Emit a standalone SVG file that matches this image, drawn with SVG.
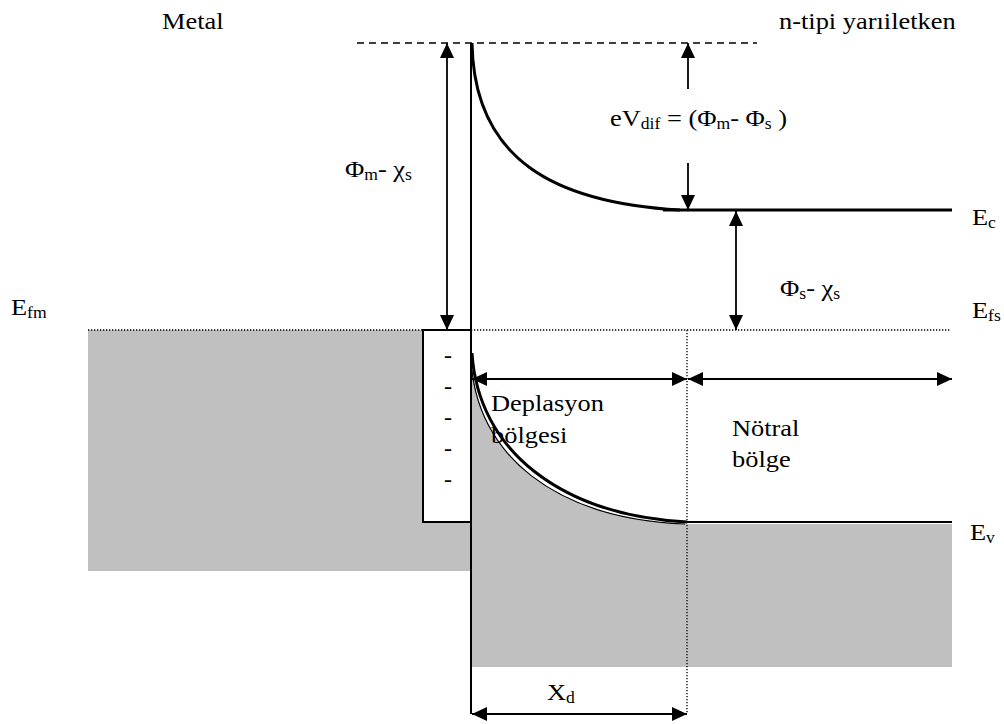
<svg xmlns="http://www.w3.org/2000/svg" width="1004" height="724" viewBox="0 0 1004 724">
<defs>
<marker id="ah" markerUnits="userSpaceOnUse" markerWidth="15" markerHeight="14" refX="15" refY="7" orient="auto-start-reverse" viewBox="0 0 15 14"><path d="M0,0 L15,7 L0,14 Z" fill="#000"/></marker>
</defs>
<style>
text{font-family:"Liberation Serif","Times New Roman",serif;font-size:24px;fill:#000}
.sub{font-size:16px}
.grey{fill:#c0c0c0;stroke:none}
.arrow{stroke:#000;stroke-width:1.8;fill:none;marker-end:url(#ah)}
.both{marker-start:url(#ah)}
.dot{stroke:#000;stroke-width:1.3;stroke-dasharray:1.3 1.7;fill:none}
.band{stroke:#000;fill:none}
</style>
<rect width="1004" height="724" fill="#fff"/>
<g id="metal-fill">
<rect class="grey" x="88" y="330" width="383" height="241"/>
</g>
<g id="semi-fill">
<path class="grey" d="M471,356 C475,456 557,519 685,524 L952,524 L952,667 L471,667 Z"/>
</g>
<g id="metal-charge">
<rect x="423" y="330" width="48" height="192" fill="#fff" stroke="#000" stroke-width="2"/>
<text x="448" y="363" text-anchor="middle">-</text>
<text x="448" y="394" text-anchor="middle">-</text>
<text x="448" y="425" text-anchor="middle">-</text>
<text x="448" y="456" text-anchor="middle">-</text>
<text x="448" y="487" text-anchor="middle">-</text>
</g>
<g id="interface">
<path class="band" d="M471,43 V714" stroke-width="2"/>
</g>
<g id="vacuum-level">
<path class="band" d="M357,43 H757" stroke-width="1.5" stroke-dasharray="7 5"/>
</g>
<g id="conduction-band">
<path class="band" d="M472,43 C474,160 555,203 680,210" stroke-width="3"/>
<path class="band" d="M663,210 H952" stroke-width="3"/>
</g>
<g id="valence-band">
<path class="band" d="M471,358 C475,456 557,519 685,524" stroke-width="1.2"/>
<path class="band" d="M472,353 C478,450 560,515 687,522" stroke-width="3"/>
<path class="band" d="M687,522 H952" stroke-width="2"/>
</g>
<g id="fermi-levels">
<path class="dot" d="M88,330 H423"/>
<path class="dot" d="M471,330 H950"/>
<path class="dot" d="M687,330 V714"/>
</g>
<g id="connectors">
<path class="arrow both" d="M447,330 V43"/>
<path class="arrow" d="M688,89 V43"/>
<path class="arrow" d="M688,163 V210"/>
<path class="arrow both" d="M736,211 V330"/>
<path class="arrow both" d="M472,379 H687"/>
<path class="arrow both" d="M688,379 H952"/>
<path class="arrow both" d="M472,714 H687"/>
</g>
<g id="labels">
<text transform="translate(162,29) scale(1.1,1)">Metal</text>
<text transform="translate(779,29) scale(1.1,1)">n-tipi yarıiletken</text>
<text transform="translate(345,177) scale(1.1,1)">Φ<tspan class="sub" dy="3">m</tspan><tspan dy="-3">- χ</tspan><tspan class="sub" dy="3">s</tspan></text>
<text transform="translate(610,126) scale(1.1,1)">eV<tspan class="sub" dy="3">dif</tspan><tspan dy="-3"> = (Φ</tspan><tspan class="sub" dy="3">m</tspan><tspan dy="-3">- Φ</tspan><tspan class="sub" dy="3">s</tspan><tspan dy="-3"> )</tspan></text>
<text transform="translate(780,296) scale(1.1,1)">Φ<tspan class="sub" dy="3">s</tspan><tspan dy="-3">- χ</tspan><tspan class="sub" dy="3">s</tspan></text>
<text transform="translate(972,225) scale(1.1,1)">E<tspan class="sub" dy="3">c</tspan></text>
<text transform="translate(972,318) scale(1.1,1)">E<tspan class="sub" dy="3">fs</tspan></text>
<text transform="translate(11,315) scale(1.1,1)">E<tspan class="sub" dy="3">fm</tspan></text>
<text transform="translate(970,540) scale(1.1,1)">E<tspan class="sub" dy="3">v</tspan></text>
<text transform="translate(491,411) scale(1.1,1)">Deplasyon</text>
<text transform="translate(491,443) scale(1.1,1)">bölgesi</text>
<text transform="translate(732,436) scale(1.1,1)">Nötral</text>
<text transform="translate(732,467) scale(1.1,1)">bölge</text>
<text transform="translate(547,700) scale(1.1,1)">X<tspan class="sub" dy="3">d</tspan></text>
</g>
</svg>
